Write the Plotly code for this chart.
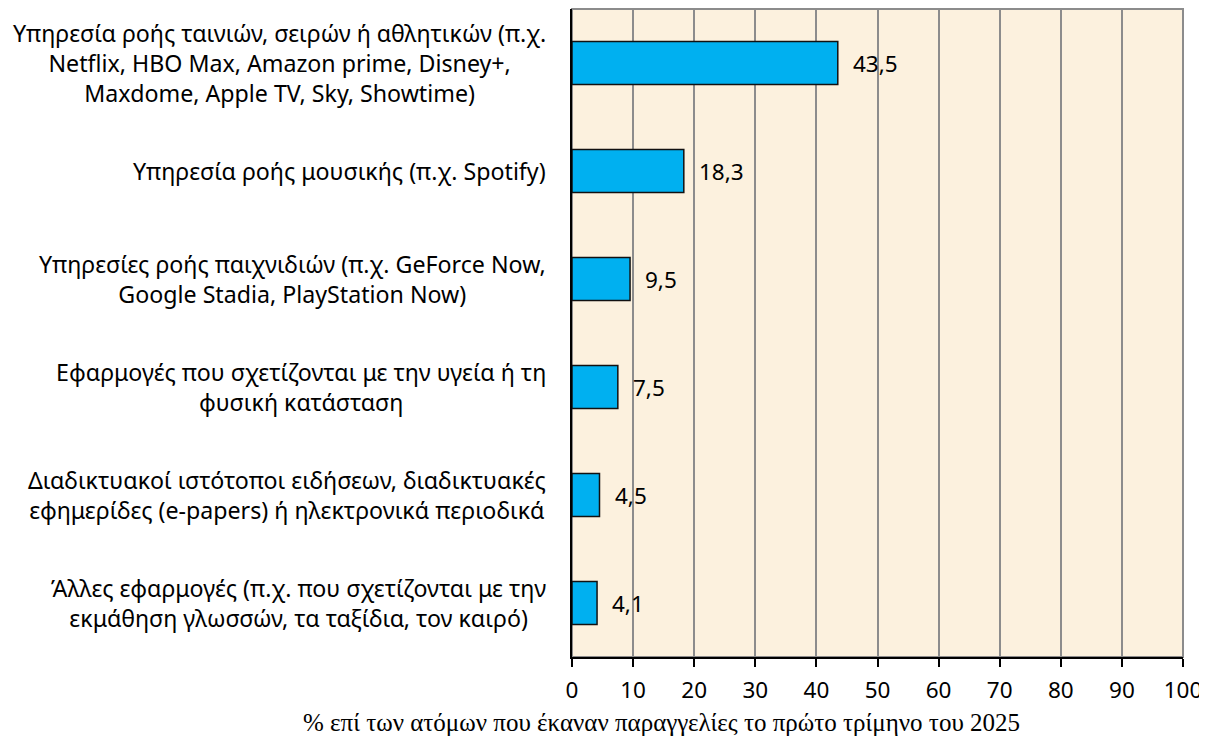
import plotly.graph_objects as go

categories = [
    "Υπηρεσία ροής ταινιών, σειρών ή αθλητικών (π.χ.<br>Netflix, HBO Max, Amazon prime, Disney+,<br>Maxdome, Apple TV, Sky, Showtime)",
    "Υπηρεσία ροής μουσικής (π.χ. Spotify)",
    "Υπηρεσίες ροής παιχνιδιών (π.χ. GeForce Now,<br>Google Stadia, PlayStation Now)",
    "Εφαρμογές που σχετίζονται με την υγεία ή τη<br>φυσική κατάσταση",
    "Διαδικτυακοί ιστότοποι ειδήσεων, διαδικτυακές<br>εφημερίδες (e-papers) ή ηλεκτρονικά περιοδικά",
    "Άλλες εφαρμογές (π.χ. που σχετίζονται με την<br>εκμάθηση γλωσσών, τα ταξίδια, τον καιρό)",
]
values = [43.5, 18.3, 9.5, 7.5, 4.5, 4.1]
x_ticks = [0, 10, 20, 30, 40, 50, 60, 70, 80, 90, 100]
x_title = "% επί των ατόμων που έκαναν παραγγελίες το πρώτο τρίμηνο του 2025"

FONT = "Noto Sans, Open Sans, sans-serif"
FS = 23.2

ids = list(range(len(categories)))

fig = go.Figure()
fig.add_trace(go.Bar(
    x=values, y=ids, orientation="h", width=0.4,
    marker=dict(color="#00B0F0", line=dict(color="#111111", width=1.5)),
    hoverinfo="x",
))

annotations = []
for i, (c, v) in enumerate(zip(categories, values)):
    annotations.append(dict(
        x=0, xref="paper", y=i, yref="y", text=c,
        showarrow=False, xanchor="right", yanchor="middle", align="center",
        xshift=-24,
        font=dict(family=FONT, size=FS, color="#000000"),
    ))
    annotations.append(dict(
        x=v, xref="x", y=i, yref="y", text=f"{v:.1f}".replace(".", ","),
        showarrow=False, xanchor="left", yanchor="middle", xshift=13,
        font=dict(family=FONT, size=22.5, color="#000000"),
    ))
annotations.append(dict(
    x=0.147, xref="paper", y=-0.1005, yref="paper", text=x_title, showarrow=False,
    xanchor="center", yanchor="middle",
    font=dict(family="Liberation Serif, Times New Roman, serif", size=25, color="#000000"),
))

fig.update_layout(
    width=1199, height=734,
    margin=dict(l=564, r=24, t=1, b=85),
    paper_bgcolor="#FFFFFF", plot_bgcolor="#FCF1DE",
    showlegend=False,
    annotations=annotations,
)
fig.update_xaxes(
    range=[0, 100], tickvals=x_ticks, ticktext=[str(t) for t in x_ticks],
    showgrid=True, gridcolor="#8C8C8C", gridwidth=1.5,
    showline=True, linecolor="#000000", linewidth=2,
    ticks="outside", ticklen=8, tickwidth=2, tickcolor="#000000",
    ticklabelstandoff=4,
    tickfont=dict(family=FONT, size=22.5, color="#000000"),
    zeroline=False, fixedrange=True,
)
fig.update_yaxes(
    range=[5.5, -0.5], showticklabels=False, showgrid=False,
    showline=True, linecolor="#000000", linewidth=2, ticks="",
    zeroline=False, fixedrange=True,
)
fig.add_shape(type="rect", xref="paper", yref="paper", x0=0, x1=1, y0=0, y1=1,
              line=dict(color="#8C8C8C", width=2), layer="below")

fig.write_html("out.html")
